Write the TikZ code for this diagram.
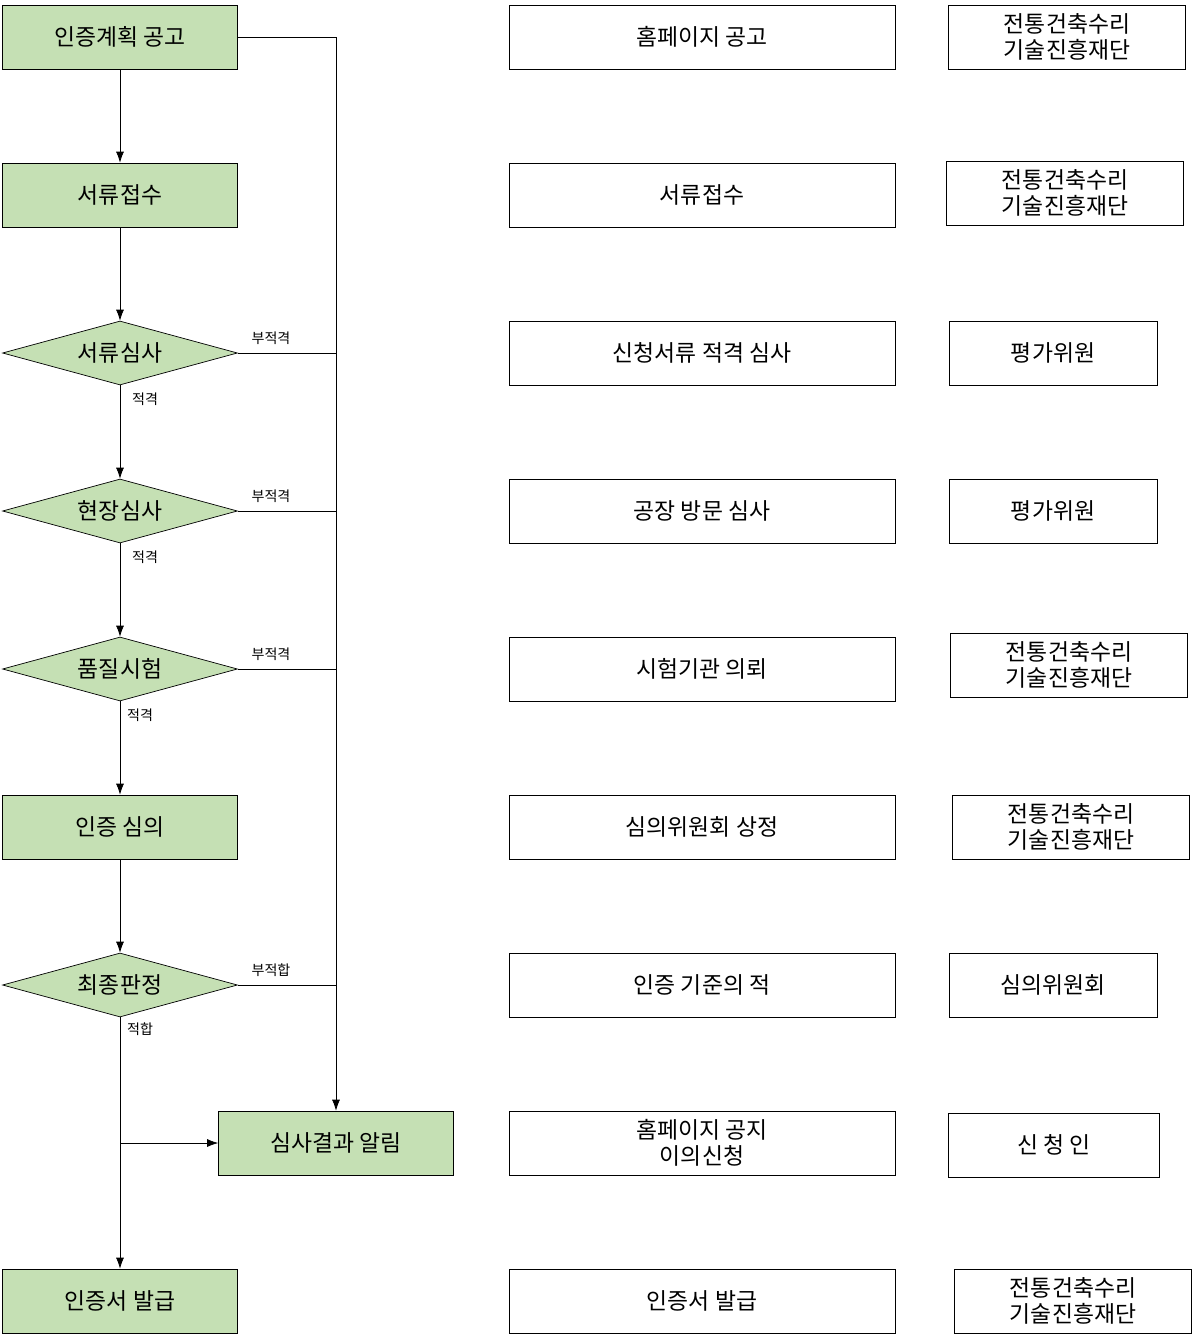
\documentclass[tikz,border=0pt]{standalone}
\usepackage{fontspec}
\setmainfont{Noto Sans CJK KR}
\usetikzlibrary{shapes.geometric,arrows.meta}
\definecolor{stepgreen}{HTML}{C5E0B4}
\tikzset{
  stage/.style={draw, fill=stepgreen, minimum width=4.7cm, minimum height=1.28cm, inner sep=0pt, font=\fontsize{13}{15}\selectfont},
  check/.style={draw, fill=stepgreen, diamond, aspect=3.6, minimum width=4.7cm, minimum height=1.28cm, inner sep=0pt, font=\fontsize{13}{15}\selectfont},
  info/.style={draw, minimum height=1.28cm, inner sep=0pt, align=center, font=\fontsize{13}{15}\selectfont},
  lbl/.style={font=\fontsize{8}{9}\selectfont},
  flow/.style={-{Latex[length=2.2mm,width=1.6mm]}}
}
\begin{document}
\begin{tikzpicture}[x=0.02cm, y=-0.02cm]
  \useasboundingbox (0,0) rectangle (1194,1335);
  % main flow
  \node[stage] (s1) at (120,37) {인증계획 공고};
  \node[stage] (s2) at (120,195) {서류접수};
  \node[check] (s3) at (120,353) {서류심사};
  \node[check] (s4) at (120,511) {현장심사};
  \node[check] (s5) at (120,669) {품질시험};
  \node[stage] (s6) at (120,827) {인증 심의};
  \node[check] (s7) at (120,985) {최종판정};
  \node[stage] (s8) at (336,1143) {심사결과 알림};
  \node[stage] (s9) at (120,1301) {인증서 발급};
  % side line
  \coordinate (bus1) at (336,37);
  \coordinate (bus3) at (336,353);
  \coordinate (bus4) at (336,511);
  \coordinate (bus5) at (336,669);
  \coordinate (bus7) at (336,985);
  \coordinate (tap) at (120,1143);
  \draw[flow] (s1.east) -- (bus1) -- (s8.north);
  \draw (s3.east) -- (bus3);
  \draw (s4.east) -- (bus4);
  \draw (s5.east) -- (bus5);
  \draw (s7.east) -- (bus7);
  \draw[flow] (s1) -- (s2);
  \draw[flow] (s2) -- (s3);
  \draw[flow] (s3) -- (s4);
  \draw[flow] (s4) -- (s5);
  \draw[flow] (s5) -- (s6);
  \draw[flow] (s6) -- (s7);
  \draw[flow] (s7) -- (s9);
  \draw[flow] (tap) -- (s8.west);
  % labels
  \foreach \y in {338,496,654} \node[lbl] at (271,\y) {부적격};
  \node[lbl] at (271,970) {부적합};
  \node[lbl] at (145,399) {적격};
  \node[lbl] at (145,557) {적격};
  \node[lbl] at (140,715) {적격};
  \node[lbl] at (140,1029) {적합};
  % description boxes
  \foreach \y/\t [count=\n] in {37/홈페이지 공고, 195/서류접수, 353/신청서류 적격 심사, 511/공장 방문 심사, 669/시험기관 의뢰, 827/심의위원회 상정, 985/인증 기준의 적/부적합 판정, 1143/홈페이지 공지\\이의신청, 1301/인증서 발급}
    \node[info, minimum width=7.72cm] (d\n) at (702,\y) {\t};
  % agent boxes
  \foreach \x/\y/\w/\t [count=\n] in {1067/37/237/전통건축수리\\기술진흥재단, 1065/193/237/전통건축수리\\기술진흥재단, 1053/353/208/평가위원, 1053/511/208/평가위원, 1069/665/237/전통건축수리\\기술진흥재단, 1071/827/237/전통건축수리\\기술진흥재단, 1053/985/208/심의위원회, 1054/1145/211/신 청 인, 1073/1301/237/전통건축수리\\기술진흥재단}
    \node[info, minimum width=\w*0.02cm] (a\n) at (\x,\y) {\t};
\end{tikzpicture}
\end{document}
